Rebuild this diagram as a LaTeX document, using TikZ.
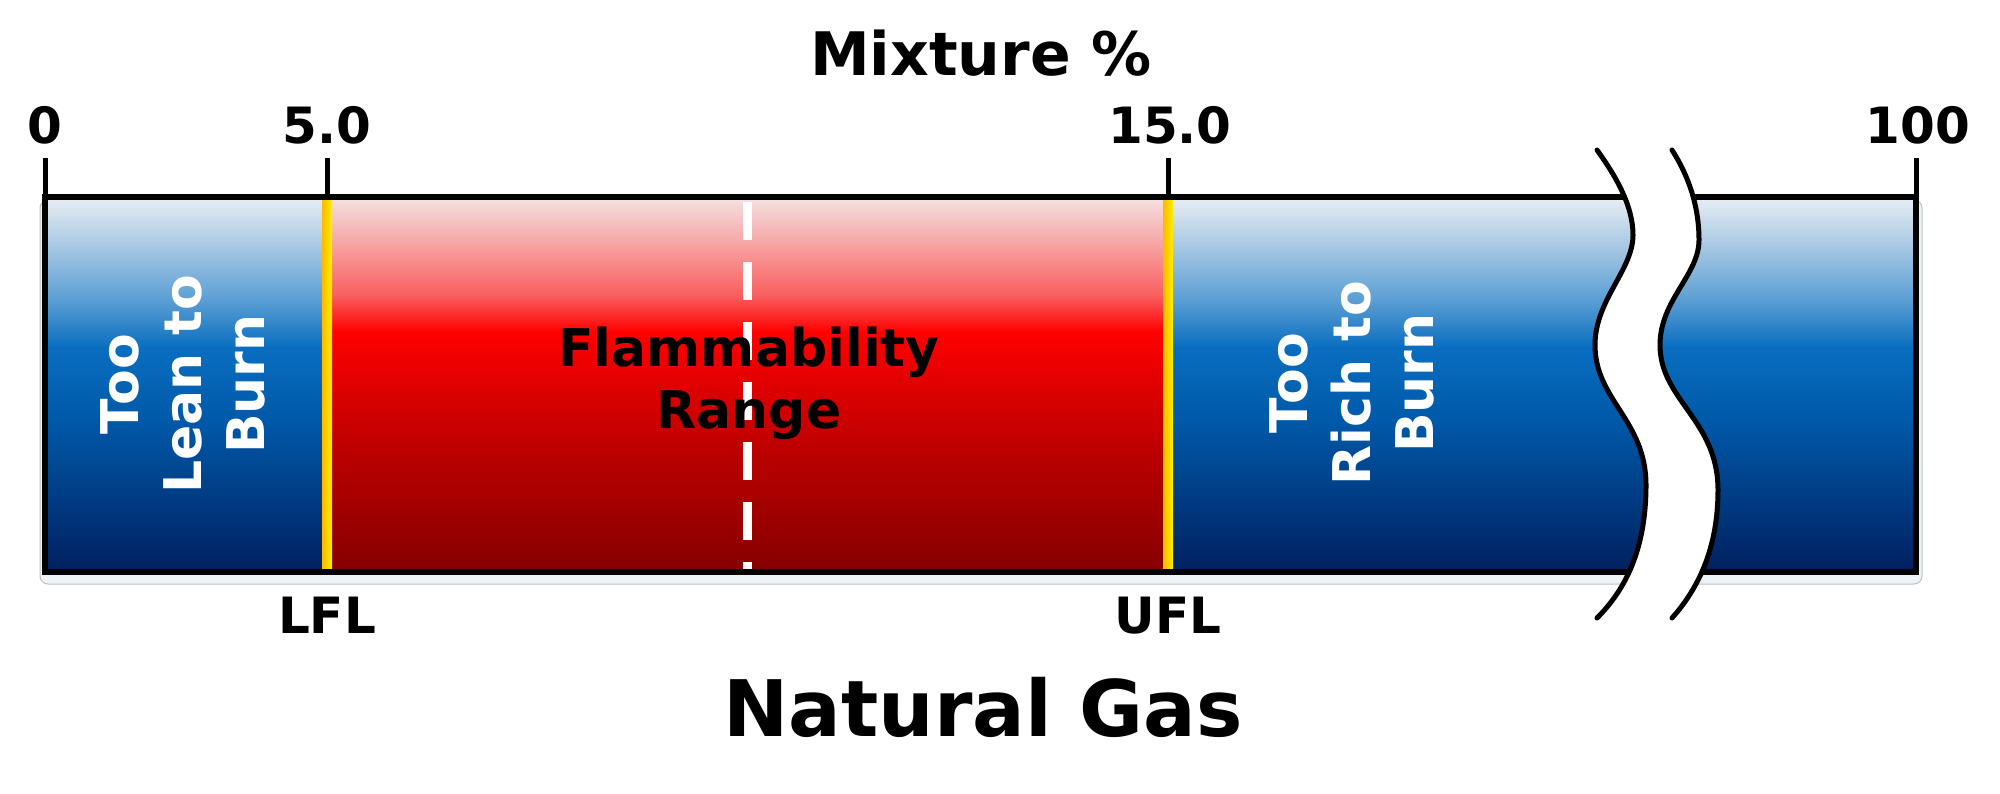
\documentclass[tikz,border=0pt]{standalone}
\usepackage{fontspec}
\setmainfont{DejaVu Sans}
\definecolor{bA}{HTML}{00205F}
\definecolor{bB}{HTML}{0058A8}
\definecolor{bC}{HTML}{0A6EC0}
\definecolor{bD}{HTML}{5EA0D4}
\definecolor{bE}{HTML}{A8C8E4}
\definecolor{bF}{HTML}{E8EEF3}
\definecolor{rA}{HTML}{850000}
\definecolor{rB}{HTML}{B80000}
\definecolor{rC}{HTML}{E00000}
\definecolor{rD}{HTML}{FF0000}
\definecolor{rE}{HTML}{F96060}
\definecolor{rF}{HTML}{F4E2E2}
\definecolor{yA}{HTML}{FFB800}
\definecolor{yB}{HTML}{FFF000}
\definecolor{shadowfill}{HTML}{EEF3F8}
\pgfdeclareverticalshading{bluebar}{100bp}{color(0bp)=(bA); color(25bp)=(bA); color(45bp)=(bB); color(55bp)=(bC); color(61.5bp)=(bD); color(68.5bp)=(bE); color(75bp)=(bF); color(100bp)=(bF)}
\pgfdeclareverticalshading{redbar}{100bp}{color(0bp)=(rA); color(25bp)=(rA); color(40bp)=(rB); color(50bp)=(rC); color(57bp)=(rD); color(62bp)=(rE); color(75bp)=(rF); color(100bp)=(rF)}
\tikzset{
  lbl/.style={font=\fontsize{50}{60}\selectfont\bfseries, anchor=base, inner sep=0pt},
  sidetext/.style={rotate=90, align=center, text=white, font=\fontsize{52}{63}\selectfont\bfseries, inner sep=0pt},
  frameline/.style={line width=5.5pt, black},
  breakline/.style={line width=5pt, black, line cap=round},
  tickline/.style={line width=5pt, black}
}
\begin{document}
\begin{tikzpicture}[x=1pt,y=-1pt]
\useasboundingbox (0,0) rectangle (2000,793);
% soft shadow
\filldraw[fill=shadowfill, draw=black!25, line width=1pt, rounded corners=8pt] (40,200) rectangle (1922,584);
% bars
\shade[shading=bluebar] (45,197) rectangle (322,572);
\shade[shading=redbar] (332,197) rectangle (1163,572);
\shade[shading=bluebar] (1173,197) rectangle (1916,572);
\shade[left color=yA, right color=yB] (322,199) rectangle (332,570);
\shade[left color=yA, right color=yB] (1163,199) rectangle (1173,570);
% mid dashed line
\draw[white, line width=9pt, dash pattern=on 38pt off 22pt] (747,202) -- (747,572);
% frame
\draw[frameline] (45,197) rectangle (1916,572);
% break
\fill[white] (1597,150) .. controls (1615,175) and (1633,205) .. (1633,235)
  .. controls (1633,270) and (1595,300) .. (1595,345)
  .. controls (1595,400) and (1646,420) .. (1646,485)
  .. controls (1646,550) and (1625,590) .. (1597,618)
  -- (1672,618) .. controls (1697,590) and (1718,550) .. (1718,490)
  .. controls (1718,420) and (1660,400) .. (1660,345)
  .. controls (1660,300) and (1699,275) .. (1699,240)
  .. controls (1699,205) and (1688,175) .. (1672,150) -- cycle;
\draw[breakline] (1597,150) .. controls (1615,175) and (1633,205) .. (1633,235)
  .. controls (1633,270) and (1595,300) .. (1595,345)
  .. controls (1595,400) and (1646,420) .. (1646,485)
  .. controls (1646,550) and (1625,590) .. (1597,618);
\draw[breakline] (1672,150) .. controls (1688,175) and (1699,205) .. (1699,240)
  .. controls (1699,275) and (1660,300) .. (1660,345)
  .. controls (1660,400) and (1718,420) .. (1718,490)
  .. controls (1718,550) and (1697,590) .. (1672,618);
% ticks
\draw[tickline] (45,158) -- (45,197);
\draw[tickline] (327,158) -- (327,197);
\draw[tickline] (1168,158) -- (1168,197);
\draw[tickline] (1916,158) -- (1916,197);
% labels
\node[font=\fontsize{60}{70}\selectfont\bfseries, anchor=base, inner sep=0pt] (mix) at (981,75) {Mixture \%};
\node[lbl] (n0) at (45,143) {0};
\node[lbl] (n5) at (327,143) {5.0};
\node[lbl] (n15) at (1170,143) {15.0};
\node[lbl] (n100) at (1918,143) {100};
\node[lbl] (lfl) at (327,633) {LFL};
\node[lbl] (ufl) at (1168,633) {UFL};
\node[font=\fontsize{78}{90}\selectfont\bfseries, anchor=base, inner sep=0pt] (title) at (983,736) {Natural Gas};
\node[sidetext] (lean) at (183,384) {Too\\Lean to\\Burn};
\node[sidetext] (rich) at (1352,383) {Too\\Rich to\\Burn};
\node[align=center, font=\fontsize{52}{62}\selectfont\bfseries, inner sep=0pt] (flam) at (749,383) {Flammability\\Range};
\end{tikzpicture}
\end{document}
